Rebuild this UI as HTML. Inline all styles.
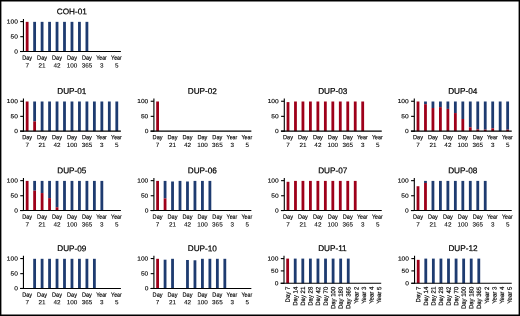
<!DOCTYPE html>
<html><head><meta charset="utf-8"><style>
html,body{margin:0;padding:0;background:#fff;}
body{width:520px;height:316px;overflow:hidden;}
svg{display:block;will-change:transform;}
text{font-family:"Liberation Sans",sans-serif;fill:#000;text-rendering:geometricPrecision;stroke:#000;stroke-width:0.22px;}
.tt{stroke-width:0.22px}.tk{stroke-width:0.12px}.x1{stroke-width:0.15px}.x2{stroke-width:0.08px}.xr{stroke-width:0.18px}
</style></head><body>
<svg width="520" height="316" viewBox="0 0 520 316">
<rect x="0" y="0" width="520" height="316" fill="#fff"/>
<text transform="translate(71.85 14.2) rotate(0.2)" font-size="8.2" text-anchor="middle" class="tt">COH-01</text>
<rect x="25.75" y="21.85" width="2.8" height="29.65" fill="#9e001a"/>
<rect x="33.22" y="21.85" width="2.8" height="29.65" fill="#1e3b70"/>
<rect x="40.69" y="21.85" width="2.8" height="29.65" fill="#1e3b70"/>
<rect x="48.16" y="21.85" width="2.8" height="29.65" fill="#1e3b70"/>
<rect x="55.63" y="21.85" width="2.8" height="29.65" fill="#1e3b70"/>
<rect x="63.1" y="21.85" width="2.8" height="29.65" fill="#1e3b70"/>
<rect x="70.57" y="21.85" width="2.8" height="29.65" fill="#1e3b70"/>
<rect x="78.04" y="21.85" width="2.8" height="29.65" fill="#1e3b70"/>
<rect x="85.51" y="21.85" width="2.8" height="29.65" fill="#1e3b70"/>
<line x1="23.45" y1="18.9" x2="23.45" y2="52" stroke="#000" stroke-width="1.1"/>
<line x1="20.05" y1="51.5" x2="120.9" y2="51.5" stroke="#000" stroke-width="1.1"/>
<line x1="20.25" y1="21.6" x2="23.45" y2="21.6" stroke="#000" stroke-width="1.1"/>
<text transform="translate(17.85 23.49) rotate(0.2) scale(1.12 1)" font-size="5.9" text-anchor="end" class="tk">100</text>
<line x1="20.25" y1="36.7" x2="23.45" y2="36.7" stroke="#000" stroke-width="1.1"/>
<text transform="translate(17.85 38.59) rotate(0.2) scale(1.12 1)" font-size="5.9" text-anchor="end" class="tk">50</text>
<line x1="20.25" y1="51.5" x2="23.45" y2="51.5" stroke="#000" stroke-width="1.1"/>
<text transform="translate(17.85 53.39) rotate(0.2) scale(1.12 1)" font-size="5.9" text-anchor="end" class="tk">0</text>
<text transform="translate(27.15 59.7) rotate(0.2) scale(0.92 1)" font-size="6.1" text-anchor="middle" class="x1">Day</text>
<text transform="translate(27.15 67.4) rotate(0.2) scale(1.04 1)" font-size="6.1" text-anchor="middle" class="x2">7</text>
<text transform="translate(42.09 59.7) rotate(0.2) scale(0.92 1)" font-size="6.1" text-anchor="middle" class="x1">Day</text>
<text transform="translate(42.09 67.4) rotate(0.2) scale(1.04 1)" font-size="6.1" text-anchor="middle" class="x2">21</text>
<text transform="translate(57.03 59.7) rotate(0.2) scale(0.92 1)" font-size="6.1" text-anchor="middle" class="x1">Day</text>
<text transform="translate(57.03 67.4) rotate(0.2) scale(1.04 1)" font-size="6.1" text-anchor="middle" class="x2">42</text>
<text transform="translate(71.97 59.7) rotate(0.2) scale(0.92 1)" font-size="6.1" text-anchor="middle" class="x1">Day</text>
<text transform="translate(71.97 67.4) rotate(0.2) scale(1.04 1)" font-size="6.1" text-anchor="middle" class="x2">100</text>
<text transform="translate(86.91 59.7) rotate(0.2) scale(0.92 1)" font-size="6.1" text-anchor="middle" class="x1">Day</text>
<text transform="translate(86.91 67.4) rotate(0.2) scale(1.04 1)" font-size="6.1" text-anchor="middle" class="x2">365</text>
<text transform="translate(101.5 59.7) rotate(0.2) scale(0.87 1)" font-size="6.1" text-anchor="middle" class="x1">Year</text>
<text transform="translate(101.85 67.4) rotate(0.2) scale(1.04 1)" font-size="6.1" text-anchor="middle" class="x2">3</text>
<text transform="translate(116.44 59.7) rotate(0.2) scale(0.87 1)" font-size="6.1" text-anchor="middle" class="x1">Year</text>
<text transform="translate(116.79 67.4) rotate(0.2) scale(1.04 1)" font-size="6.1" text-anchor="middle" class="x2">5</text>
<text transform="translate(71.85 93.85) rotate(0.2)" font-size="8.2" text-anchor="middle" class="tt">DUP-01</text>
<rect x="25.75" y="101.5" width="2.8" height="29.65" fill="#9e001a"/>
<rect x="33.22" y="101.5" width="2.8" height="19.87" fill="#1e3b70"/>
<rect x="33.22" y="121.37" width="2.8" height="9.78" fill="#9e001a"/>
<rect x="40.69" y="101.5" width="2.8" height="29.65" fill="#1e3b70"/>
<rect x="48.16" y="101.5" width="2.8" height="29.65" fill="#1e3b70"/>
<rect x="55.63" y="101.5" width="2.8" height="29.65" fill="#1e3b70"/>
<rect x="63.1" y="101.5" width="2.8" height="29.65" fill="#1e3b70"/>
<rect x="70.57" y="101.5" width="2.8" height="29.65" fill="#1e3b70"/>
<rect x="78.04" y="101.5" width="2.8" height="29.65" fill="#1e3b70"/>
<rect x="85.51" y="101.5" width="2.8" height="29.65" fill="#1e3b70"/>
<rect x="92.98" y="101.5" width="2.8" height="29.65" fill="#1e3b70"/>
<rect x="100.45" y="101.5" width="2.8" height="29.65" fill="#1e3b70"/>
<rect x="107.92" y="101.5" width="2.8" height="29.65" fill="#1e3b70"/>
<rect x="115.39" y="101.5" width="2.8" height="29.65" fill="#1e3b70"/>
<line x1="23.45" y1="98.55" x2="23.45" y2="131.65" stroke="#000" stroke-width="1.1"/>
<line x1="20.05" y1="131.15" x2="120.9" y2="131.15" stroke="#000" stroke-width="1.1"/>
<line x1="20.25" y1="101.25" x2="23.45" y2="101.25" stroke="#000" stroke-width="1.1"/>
<text transform="translate(17.85 103.14) rotate(0.2) scale(1.12 1)" font-size="5.9" text-anchor="end" class="tk">100</text>
<line x1="20.25" y1="116.35" x2="23.45" y2="116.35" stroke="#000" stroke-width="1.1"/>
<text transform="translate(17.85 118.24) rotate(0.2) scale(1.12 1)" font-size="5.9" text-anchor="end" class="tk">50</text>
<line x1="20.25" y1="131.15" x2="23.45" y2="131.15" stroke="#000" stroke-width="1.1"/>
<text transform="translate(17.85 133.04) rotate(0.2) scale(1.12 1)" font-size="5.9" text-anchor="end" class="tk">0</text>
<text transform="translate(27.15 139.35) rotate(0.2) scale(0.92 1)" font-size="6.1" text-anchor="middle" class="x1">Day</text>
<text transform="translate(27.15 147.05) rotate(0.2) scale(1.04 1)" font-size="6.1" text-anchor="middle" class="x2">7</text>
<text transform="translate(42.09 139.35) rotate(0.2) scale(0.92 1)" font-size="6.1" text-anchor="middle" class="x1">Day</text>
<text transform="translate(42.09 147.05) rotate(0.2) scale(1.04 1)" font-size="6.1" text-anchor="middle" class="x2">21</text>
<text transform="translate(57.03 139.35) rotate(0.2) scale(0.92 1)" font-size="6.1" text-anchor="middle" class="x1">Day</text>
<text transform="translate(57.03 147.05) rotate(0.2) scale(1.04 1)" font-size="6.1" text-anchor="middle" class="x2">42</text>
<text transform="translate(71.97 139.35) rotate(0.2) scale(0.92 1)" font-size="6.1" text-anchor="middle" class="x1">Day</text>
<text transform="translate(71.97 147.05) rotate(0.2) scale(1.04 1)" font-size="6.1" text-anchor="middle" class="x2">100</text>
<text transform="translate(86.91 139.35) rotate(0.2) scale(0.92 1)" font-size="6.1" text-anchor="middle" class="x1">Day</text>
<text transform="translate(86.91 147.05) rotate(0.2) scale(1.04 1)" font-size="6.1" text-anchor="middle" class="x2">365</text>
<text transform="translate(101.5 139.35) rotate(0.2) scale(0.87 1)" font-size="6.1" text-anchor="middle" class="x1">Year</text>
<text transform="translate(101.85 147.05) rotate(0.2) scale(1.04 1)" font-size="6.1" text-anchor="middle" class="x2">3</text>
<text transform="translate(116.44 139.35) rotate(0.2) scale(0.87 1)" font-size="6.1" text-anchor="middle" class="x1">Year</text>
<text transform="translate(116.79 147.05) rotate(0.2) scale(1.04 1)" font-size="6.1" text-anchor="middle" class="x2">5</text>
<text transform="translate(202.3 93.85) rotate(0.2)" font-size="8.2" text-anchor="middle" class="tt">DUP-02</text>
<rect x="156.2" y="101.5" width="2.8" height="29.65" fill="#9e001a"/>
<line x1="153.9" y1="98.55" x2="153.9" y2="131.65" stroke="#000" stroke-width="1.1"/>
<line x1="150.5" y1="131.15" x2="251.35" y2="131.15" stroke="#000" stroke-width="1.1"/>
<line x1="150.7" y1="101.25" x2="153.9" y2="101.25" stroke="#000" stroke-width="1.1"/>
<text transform="translate(148.3 103.14) rotate(0.2) scale(1.12 1)" font-size="5.9" text-anchor="end" class="tk">100</text>
<line x1="150.7" y1="116.35" x2="153.9" y2="116.35" stroke="#000" stroke-width="1.1"/>
<text transform="translate(148.3 118.24) rotate(0.2) scale(1.12 1)" font-size="5.9" text-anchor="end" class="tk">50</text>
<line x1="150.7" y1="131.15" x2="153.9" y2="131.15" stroke="#000" stroke-width="1.1"/>
<text transform="translate(148.3 133.04) rotate(0.2) scale(1.12 1)" font-size="5.9" text-anchor="end" class="tk">0</text>
<text transform="translate(157.6 139.35) rotate(0.2) scale(0.92 1)" font-size="6.1" text-anchor="middle" class="x1">Day</text>
<text transform="translate(157.6 147.05) rotate(0.2) scale(1.04 1)" font-size="6.1" text-anchor="middle" class="x2">7</text>
<text transform="translate(172.54 139.35) rotate(0.2) scale(0.92 1)" font-size="6.1" text-anchor="middle" class="x1">Day</text>
<text transform="translate(172.54 147.05) rotate(0.2) scale(1.04 1)" font-size="6.1" text-anchor="middle" class="x2">21</text>
<text transform="translate(187.48 139.35) rotate(0.2) scale(0.92 1)" font-size="6.1" text-anchor="middle" class="x1">Day</text>
<text transform="translate(187.48 147.05) rotate(0.2) scale(1.04 1)" font-size="6.1" text-anchor="middle" class="x2">42</text>
<text transform="translate(202.42 139.35) rotate(0.2) scale(0.92 1)" font-size="6.1" text-anchor="middle" class="x1">Day</text>
<text transform="translate(202.42 147.05) rotate(0.2) scale(1.04 1)" font-size="6.1" text-anchor="middle" class="x2">100</text>
<text transform="translate(217.36 139.35) rotate(0.2) scale(0.92 1)" font-size="6.1" text-anchor="middle" class="x1">Day</text>
<text transform="translate(217.36 147.05) rotate(0.2) scale(1.04 1)" font-size="6.1" text-anchor="middle" class="x2">365</text>
<text transform="translate(231.95 139.35) rotate(0.2) scale(0.87 1)" font-size="6.1" text-anchor="middle" class="x1">Year</text>
<text transform="translate(232.3 147.05) rotate(0.2) scale(1.04 1)" font-size="6.1" text-anchor="middle" class="x2">3</text>
<text transform="translate(246.89 139.35) rotate(0.2) scale(0.87 1)" font-size="6.1" text-anchor="middle" class="x1">Year</text>
<text transform="translate(247.24 147.05) rotate(0.2) scale(1.04 1)" font-size="6.1" text-anchor="middle" class="x2">5</text>
<text transform="translate(332.7 93.85) rotate(0.2)" font-size="8.2" text-anchor="middle" class="tt">DUP-03</text>
<rect x="286.6" y="102.09" width="2.8" height="29.06" fill="#9e001a"/>
<rect x="294.07" y="101.5" width="2.8" height="29.65" fill="#9e001a"/>
<rect x="301.54" y="101.5" width="2.8" height="29.65" fill="#9e001a"/>
<rect x="309.01" y="101.5" width="2.8" height="29.65" fill="#9e001a"/>
<rect x="316.48" y="101.5" width="2.8" height="29.65" fill="#9e001a"/>
<rect x="323.95" y="101.5" width="2.8" height="29.65" fill="#9e001a"/>
<rect x="331.42" y="101.5" width="2.8" height="29.65" fill="#9e001a"/>
<rect x="338.89" y="101.5" width="2.8" height="29.65" fill="#9e001a"/>
<rect x="346.36" y="101.5" width="2.8" height="29.65" fill="#9e001a"/>
<rect x="353.83" y="101.5" width="2.8" height="29.65" fill="#9e001a"/>
<rect x="361.3" y="101.5" width="2.8" height="29.65" fill="#9e001a"/>
<line x1="284.3" y1="98.55" x2="284.3" y2="131.65" stroke="#000" stroke-width="1.1"/>
<line x1="280.9" y1="131.15" x2="381.75" y2="131.15" stroke="#000" stroke-width="1.1"/>
<line x1="281.1" y1="101.25" x2="284.3" y2="101.25" stroke="#000" stroke-width="1.1"/>
<text transform="translate(278.7 103.14) rotate(0.2) scale(1.12 1)" font-size="5.9" text-anchor="end" class="tk">100</text>
<line x1="281.1" y1="116.35" x2="284.3" y2="116.35" stroke="#000" stroke-width="1.1"/>
<text transform="translate(278.7 118.24) rotate(0.2) scale(1.12 1)" font-size="5.9" text-anchor="end" class="tk">50</text>
<line x1="281.1" y1="131.15" x2="284.3" y2="131.15" stroke="#000" stroke-width="1.1"/>
<text transform="translate(278.7 133.04) rotate(0.2) scale(1.12 1)" font-size="5.9" text-anchor="end" class="tk">0</text>
<text transform="translate(288 139.35) rotate(0.2) scale(0.92 1)" font-size="6.1" text-anchor="middle" class="x1">Day</text>
<text transform="translate(288 147.05) rotate(0.2) scale(1.04 1)" font-size="6.1" text-anchor="middle" class="x2">7</text>
<text transform="translate(302.94 139.35) rotate(0.2) scale(0.92 1)" font-size="6.1" text-anchor="middle" class="x1">Day</text>
<text transform="translate(302.94 147.05) rotate(0.2) scale(1.04 1)" font-size="6.1" text-anchor="middle" class="x2">21</text>
<text transform="translate(317.88 139.35) rotate(0.2) scale(0.92 1)" font-size="6.1" text-anchor="middle" class="x1">Day</text>
<text transform="translate(317.88 147.05) rotate(0.2) scale(1.04 1)" font-size="6.1" text-anchor="middle" class="x2">42</text>
<text transform="translate(332.82 139.35) rotate(0.2) scale(0.92 1)" font-size="6.1" text-anchor="middle" class="x1">Day</text>
<text transform="translate(332.82 147.05) rotate(0.2) scale(1.04 1)" font-size="6.1" text-anchor="middle" class="x2">100</text>
<text transform="translate(347.76 139.35) rotate(0.2) scale(0.92 1)" font-size="6.1" text-anchor="middle" class="x1">Day</text>
<text transform="translate(347.76 147.05) rotate(0.2) scale(1.04 1)" font-size="6.1" text-anchor="middle" class="x2">365</text>
<text transform="translate(362.35 139.35) rotate(0.2) scale(0.87 1)" font-size="6.1" text-anchor="middle" class="x1">Year</text>
<text transform="translate(362.7 147.05) rotate(0.2) scale(1.04 1)" font-size="6.1" text-anchor="middle" class="x2">3</text>
<text transform="translate(377.29 139.35) rotate(0.2) scale(0.87 1)" font-size="6.1" text-anchor="middle" class="x1">Year</text>
<text transform="translate(377.64 147.05) rotate(0.2) scale(1.04 1)" font-size="6.1" text-anchor="middle" class="x2">5</text>
<text transform="translate(462.7 93.85) rotate(0.2)" font-size="8.2" text-anchor="middle" class="tt">DUP-04</text>
<rect x="416.6" y="101.5" width="2.8" height="29.65" fill="#9e001a"/>
<rect x="424.07" y="101.5" width="2.8" height="2.67" fill="#1e3b70"/>
<rect x="424.07" y="104.17" width="2.8" height="26.98" fill="#9e001a"/>
<rect x="431.54" y="101.5" width="2.8" height="6.52" fill="#1e3b70"/>
<rect x="431.54" y="108.02" width="2.8" height="23.13" fill="#9e001a"/>
<rect x="439.01" y="101.5" width="2.8" height="5.63" fill="#1e3b70"/>
<rect x="439.01" y="107.13" width="2.8" height="24.02" fill="#9e001a"/>
<rect x="446.48" y="101.5" width="2.8" height="7.41" fill="#1e3b70"/>
<rect x="446.48" y="108.91" width="2.8" height="22.24" fill="#9e001a"/>
<rect x="453.95" y="101.5" width="2.8" height="11.56" fill="#1e3b70"/>
<rect x="453.95" y="113.06" width="2.8" height="18.09" fill="#9e001a"/>
<rect x="461.42" y="101.5" width="2.8" height="17.49" fill="#1e3b70"/>
<rect x="461.42" y="118.99" width="2.8" height="12.16" fill="#9e001a"/>
<rect x="468.89" y="101.5" width="2.8" height="25.8" fill="#1e3b70"/>
<rect x="468.89" y="127.3" width="2.8" height="3.85" fill="#9e001a"/>
<rect x="476.36" y="101.5" width="2.8" height="27.87" fill="#1e3b70"/>
<rect x="476.36" y="129.37" width="2.8" height="1.78" fill="#9e001a"/>
<rect x="483.83" y="101.5" width="2.8" height="28.17" fill="#1e3b70"/>
<rect x="483.83" y="129.67" width="2.8" height="1.48" fill="#9e001a"/>
<rect x="491.3" y="101.5" width="2.8" height="26.83" fill="#1e3b70"/>
<rect x="491.3" y="128.33" width="2.8" height="2.82" fill="#9e001a"/>
<rect x="498.77" y="101.5" width="2.8" height="29.5" fill="#1e3b70"/>
<rect x="498.77" y="131" width="2.8" height="0.15" fill="#9e001a"/>
<rect x="506.24" y="101.5" width="2.8" height="28.17" fill="#1e3b70"/>
<rect x="506.24" y="129.67" width="2.8" height="1.48" fill="#9e001a"/>
<line x1="414.3" y1="98.55" x2="414.3" y2="131.65" stroke="#000" stroke-width="1.1"/>
<line x1="410.9" y1="131.15" x2="511.75" y2="131.15" stroke="#000" stroke-width="1.1"/>
<line x1="411.1" y1="101.25" x2="414.3" y2="101.25" stroke="#000" stroke-width="1.1"/>
<text transform="translate(408.7 103.14) rotate(0.2) scale(1.12 1)" font-size="5.9" text-anchor="end" class="tk">100</text>
<line x1="411.1" y1="116.35" x2="414.3" y2="116.35" stroke="#000" stroke-width="1.1"/>
<text transform="translate(408.7 118.24) rotate(0.2) scale(1.12 1)" font-size="5.9" text-anchor="end" class="tk">50</text>
<line x1="411.1" y1="131.15" x2="414.3" y2="131.15" stroke="#000" stroke-width="1.1"/>
<text transform="translate(408.7 133.04) rotate(0.2) scale(1.12 1)" font-size="5.9" text-anchor="end" class="tk">0</text>
<text transform="translate(418 139.35) rotate(0.2) scale(0.92 1)" font-size="6.1" text-anchor="middle" class="x1">Day</text>
<text transform="translate(418 147.05) rotate(0.2) scale(1.04 1)" font-size="6.1" text-anchor="middle" class="x2">7</text>
<text transform="translate(432.94 139.35) rotate(0.2) scale(0.92 1)" font-size="6.1" text-anchor="middle" class="x1">Day</text>
<text transform="translate(432.94 147.05) rotate(0.2) scale(1.04 1)" font-size="6.1" text-anchor="middle" class="x2">21</text>
<text transform="translate(447.88 139.35) rotate(0.2) scale(0.92 1)" font-size="6.1" text-anchor="middle" class="x1">Day</text>
<text transform="translate(447.88 147.05) rotate(0.2) scale(1.04 1)" font-size="6.1" text-anchor="middle" class="x2">42</text>
<text transform="translate(462.82 139.35) rotate(0.2) scale(0.92 1)" font-size="6.1" text-anchor="middle" class="x1">Day</text>
<text transform="translate(462.82 147.05) rotate(0.2) scale(1.04 1)" font-size="6.1" text-anchor="middle" class="x2">100</text>
<text transform="translate(477.76 139.35) rotate(0.2) scale(0.92 1)" font-size="6.1" text-anchor="middle" class="x1">Day</text>
<text transform="translate(477.76 147.05) rotate(0.2) scale(1.04 1)" font-size="6.1" text-anchor="middle" class="x2">365</text>
<text transform="translate(492.35 139.35) rotate(0.2) scale(0.87 1)" font-size="6.1" text-anchor="middle" class="x1">Year</text>
<text transform="translate(492.7 147.05) rotate(0.2) scale(1.04 1)" font-size="6.1" text-anchor="middle" class="x2">3</text>
<text transform="translate(507.29 139.35) rotate(0.2) scale(0.87 1)" font-size="6.1" text-anchor="middle" class="x1">Year</text>
<text transform="translate(507.64 147.05) rotate(0.2) scale(1.04 1)" font-size="6.1" text-anchor="middle" class="x2">5</text>
<text transform="translate(71.85 173.25) rotate(0.2)" font-size="8.2" text-anchor="middle" class="tt">DUP-05</text>
<rect x="25.75" y="180.9" width="2.8" height="29.65" fill="#9e001a"/>
<rect x="33.22" y="180.9" width="2.8" height="9.78" fill="#1e3b70"/>
<rect x="33.22" y="190.68" width="2.8" height="19.87" fill="#9e001a"/>
<rect x="40.69" y="180.9" width="2.8" height="12.16" fill="#1e3b70"/>
<rect x="40.69" y="193.06" width="2.8" height="17.49" fill="#9e001a"/>
<rect x="48.16" y="180.9" width="2.8" height="17.2" fill="#1e3b70"/>
<rect x="48.16" y="198.1" width="2.8" height="12.45" fill="#9e001a"/>
<rect x="55.63" y="180.9" width="2.8" height="26.39" fill="#1e3b70"/>
<rect x="55.63" y="207.29" width="2.8" height="3.26" fill="#9e001a"/>
<rect x="63.1" y="180.9" width="2.8" height="29.65" fill="#1e3b70"/>
<rect x="70.57" y="180.9" width="2.8" height="29.65" fill="#1e3b70"/>
<rect x="78.04" y="180.9" width="2.8" height="29.65" fill="#1e3b70"/>
<rect x="85.51" y="180.9" width="2.8" height="29.65" fill="#1e3b70"/>
<rect x="92.98" y="180.9" width="2.8" height="29.65" fill="#1e3b70"/>
<rect x="100.45" y="180.9" width="2.8" height="29.65" fill="#1e3b70"/>
<line x1="23.45" y1="177.95" x2="23.45" y2="211.05" stroke="#000" stroke-width="1.1"/>
<line x1="20.05" y1="210.55" x2="120.9" y2="210.55" stroke="#000" stroke-width="1.1"/>
<line x1="20.25" y1="180.65" x2="23.45" y2="180.65" stroke="#000" stroke-width="1.1"/>
<text transform="translate(17.85 182.54) rotate(0.2) scale(1.12 1)" font-size="5.9" text-anchor="end" class="tk">100</text>
<line x1="20.25" y1="195.75" x2="23.45" y2="195.75" stroke="#000" stroke-width="1.1"/>
<text transform="translate(17.85 197.64) rotate(0.2) scale(1.12 1)" font-size="5.9" text-anchor="end" class="tk">50</text>
<line x1="20.25" y1="210.55" x2="23.45" y2="210.55" stroke="#000" stroke-width="1.1"/>
<text transform="translate(17.85 212.44) rotate(0.2) scale(1.12 1)" font-size="5.9" text-anchor="end" class="tk">0</text>
<text transform="translate(27.15 218.75) rotate(0.2) scale(0.92 1)" font-size="6.1" text-anchor="middle" class="x1">Day</text>
<text transform="translate(27.15 226.45) rotate(0.2) scale(1.04 1)" font-size="6.1" text-anchor="middle" class="x2">7</text>
<text transform="translate(42.09 218.75) rotate(0.2) scale(0.92 1)" font-size="6.1" text-anchor="middle" class="x1">Day</text>
<text transform="translate(42.09 226.45) rotate(0.2) scale(1.04 1)" font-size="6.1" text-anchor="middle" class="x2">21</text>
<text transform="translate(57.03 218.75) rotate(0.2) scale(0.92 1)" font-size="6.1" text-anchor="middle" class="x1">Day</text>
<text transform="translate(57.03 226.45) rotate(0.2) scale(1.04 1)" font-size="6.1" text-anchor="middle" class="x2">42</text>
<text transform="translate(71.97 218.75) rotate(0.2) scale(0.92 1)" font-size="6.1" text-anchor="middle" class="x1">Day</text>
<text transform="translate(71.97 226.45) rotate(0.2) scale(1.04 1)" font-size="6.1" text-anchor="middle" class="x2">100</text>
<text transform="translate(86.91 218.75) rotate(0.2) scale(0.92 1)" font-size="6.1" text-anchor="middle" class="x1">Day</text>
<text transform="translate(86.91 226.45) rotate(0.2) scale(1.04 1)" font-size="6.1" text-anchor="middle" class="x2">365</text>
<text transform="translate(101.5 218.75) rotate(0.2) scale(0.87 1)" font-size="6.1" text-anchor="middle" class="x1">Year</text>
<text transform="translate(101.85 226.45) rotate(0.2) scale(1.04 1)" font-size="6.1" text-anchor="middle" class="x2">3</text>
<text transform="translate(116.44 218.75) rotate(0.2) scale(0.87 1)" font-size="6.1" text-anchor="middle" class="x1">Year</text>
<text transform="translate(116.79 226.45) rotate(0.2) scale(1.04 1)" font-size="6.1" text-anchor="middle" class="x2">5</text>
<text transform="translate(202.3 173.25) rotate(0.2)" font-size="8.2" text-anchor="middle" class="tt">DUP-06</text>
<rect x="156.2" y="180.9" width="2.8" height="29.65" fill="#9e001a"/>
<rect x="163.67" y="180.9" width="2.8" height="17.49" fill="#1e3b70"/>
<rect x="163.67" y="198.39" width="2.8" height="12.16" fill="#9e001a"/>
<rect x="171.14" y="181.49" width="2.8" height="29.06" fill="#1e3b70"/>
<rect x="178.61" y="180.9" width="2.8" height="29.65" fill="#1e3b70"/>
<rect x="186.08" y="181.49" width="2.8" height="29.06" fill="#1e3b70"/>
<rect x="193.55" y="180.9" width="2.8" height="29.65" fill="#1e3b70"/>
<rect x="201.02" y="180.9" width="2.8" height="29.65" fill="#1e3b70"/>
<rect x="208.49" y="180.9" width="2.8" height="29.65" fill="#1e3b70"/>
<line x1="153.9" y1="177.95" x2="153.9" y2="211.05" stroke="#000" stroke-width="1.1"/>
<line x1="150.5" y1="210.55" x2="251.35" y2="210.55" stroke="#000" stroke-width="1.1"/>
<line x1="150.7" y1="180.65" x2="153.9" y2="180.65" stroke="#000" stroke-width="1.1"/>
<text transform="translate(148.3 182.54) rotate(0.2) scale(1.12 1)" font-size="5.9" text-anchor="end" class="tk">100</text>
<line x1="150.7" y1="195.75" x2="153.9" y2="195.75" stroke="#000" stroke-width="1.1"/>
<text transform="translate(148.3 197.64) rotate(0.2) scale(1.12 1)" font-size="5.9" text-anchor="end" class="tk">50</text>
<line x1="150.7" y1="210.55" x2="153.9" y2="210.55" stroke="#000" stroke-width="1.1"/>
<text transform="translate(148.3 212.44) rotate(0.2) scale(1.12 1)" font-size="5.9" text-anchor="end" class="tk">0</text>
<text transform="translate(157.6 218.75) rotate(0.2) scale(0.92 1)" font-size="6.1" text-anchor="middle" class="x1">Day</text>
<text transform="translate(157.6 226.45) rotate(0.2) scale(1.04 1)" font-size="6.1" text-anchor="middle" class="x2">7</text>
<text transform="translate(172.54 218.75) rotate(0.2) scale(0.92 1)" font-size="6.1" text-anchor="middle" class="x1">Day</text>
<text transform="translate(172.54 226.45) rotate(0.2) scale(1.04 1)" font-size="6.1" text-anchor="middle" class="x2">21</text>
<text transform="translate(187.48 218.75) rotate(0.2) scale(0.92 1)" font-size="6.1" text-anchor="middle" class="x1">Day</text>
<text transform="translate(187.48 226.45) rotate(0.2) scale(1.04 1)" font-size="6.1" text-anchor="middle" class="x2">42</text>
<text transform="translate(202.42 218.75) rotate(0.2) scale(0.92 1)" font-size="6.1" text-anchor="middle" class="x1">Day</text>
<text transform="translate(202.42 226.45) rotate(0.2) scale(1.04 1)" font-size="6.1" text-anchor="middle" class="x2">100</text>
<text transform="translate(217.36 218.75) rotate(0.2) scale(0.92 1)" font-size="6.1" text-anchor="middle" class="x1">Day</text>
<text transform="translate(217.36 226.45) rotate(0.2) scale(1.04 1)" font-size="6.1" text-anchor="middle" class="x2">365</text>
<text transform="translate(231.95 218.75) rotate(0.2) scale(0.87 1)" font-size="6.1" text-anchor="middle" class="x1">Year</text>
<text transform="translate(232.3 226.45) rotate(0.2) scale(1.04 1)" font-size="6.1" text-anchor="middle" class="x2">3</text>
<text transform="translate(246.89 218.75) rotate(0.2) scale(0.87 1)" font-size="6.1" text-anchor="middle" class="x1">Year</text>
<text transform="translate(247.24 226.45) rotate(0.2) scale(1.04 1)" font-size="6.1" text-anchor="middle" class="x2">5</text>
<text transform="translate(332.7 173.25) rotate(0.2)" font-size="8.2" text-anchor="middle" class="tt">DUP-07</text>
<rect x="286.6" y="181.79" width="2.8" height="28.76" fill="#9e001a"/>
<rect x="294.07" y="180.9" width="2.8" height="29.65" fill="#9e001a"/>
<rect x="301.54" y="180.9" width="2.8" height="29.65" fill="#9e001a"/>
<rect x="309.01" y="180.9" width="2.8" height="29.65" fill="#9e001a"/>
<rect x="316.48" y="180.9" width="2.8" height="29.65" fill="#9e001a"/>
<rect x="323.95" y="180.9" width="2.8" height="29.65" fill="#9e001a"/>
<rect x="331.42" y="180.9" width="2.8" height="29.65" fill="#9e001a"/>
<rect x="338.89" y="180.9" width="2.8" height="29.65" fill="#9e001a"/>
<rect x="346.36" y="180.9" width="2.8" height="29.65" fill="#9e001a"/>
<rect x="353.83" y="180.9" width="2.8" height="29.65" fill="#9e001a"/>
<line x1="284.3" y1="177.95" x2="284.3" y2="211.05" stroke="#000" stroke-width="1.1"/>
<line x1="280.9" y1="210.55" x2="381.75" y2="210.55" stroke="#000" stroke-width="1.1"/>
<line x1="281.1" y1="180.65" x2="284.3" y2="180.65" stroke="#000" stroke-width="1.1"/>
<text transform="translate(278.7 182.54) rotate(0.2) scale(1.12 1)" font-size="5.9" text-anchor="end" class="tk">100</text>
<line x1="281.1" y1="195.75" x2="284.3" y2="195.75" stroke="#000" stroke-width="1.1"/>
<text transform="translate(278.7 197.64) rotate(0.2) scale(1.12 1)" font-size="5.9" text-anchor="end" class="tk">50</text>
<line x1="281.1" y1="210.55" x2="284.3" y2="210.55" stroke="#000" stroke-width="1.1"/>
<text transform="translate(278.7 212.44) rotate(0.2) scale(1.12 1)" font-size="5.9" text-anchor="end" class="tk">0</text>
<text transform="translate(288 218.75) rotate(0.2) scale(0.92 1)" font-size="6.1" text-anchor="middle" class="x1">Day</text>
<text transform="translate(288 226.45) rotate(0.2) scale(1.04 1)" font-size="6.1" text-anchor="middle" class="x2">7</text>
<text transform="translate(302.94 218.75) rotate(0.2) scale(0.92 1)" font-size="6.1" text-anchor="middle" class="x1">Day</text>
<text transform="translate(302.94 226.45) rotate(0.2) scale(1.04 1)" font-size="6.1" text-anchor="middle" class="x2">21</text>
<text transform="translate(317.88 218.75) rotate(0.2) scale(0.92 1)" font-size="6.1" text-anchor="middle" class="x1">Day</text>
<text transform="translate(317.88 226.45) rotate(0.2) scale(1.04 1)" font-size="6.1" text-anchor="middle" class="x2">42</text>
<text transform="translate(332.82 218.75) rotate(0.2) scale(0.92 1)" font-size="6.1" text-anchor="middle" class="x1">Day</text>
<text transform="translate(332.82 226.45) rotate(0.2) scale(1.04 1)" font-size="6.1" text-anchor="middle" class="x2">100</text>
<text transform="translate(347.76 218.75) rotate(0.2) scale(0.92 1)" font-size="6.1" text-anchor="middle" class="x1">Day</text>
<text transform="translate(347.76 226.45) rotate(0.2) scale(1.04 1)" font-size="6.1" text-anchor="middle" class="x2">365</text>
<text transform="translate(362.35 218.75) rotate(0.2) scale(0.87 1)" font-size="6.1" text-anchor="middle" class="x1">Year</text>
<text transform="translate(362.7 226.45) rotate(0.2) scale(1.04 1)" font-size="6.1" text-anchor="middle" class="x2">3</text>
<text transform="translate(377.29 218.75) rotate(0.2) scale(0.87 1)" font-size="6.1" text-anchor="middle" class="x1">Year</text>
<text transform="translate(377.64 226.45) rotate(0.2) scale(1.04 1)" font-size="6.1" text-anchor="middle" class="x2">5</text>
<text transform="translate(462.7 173.25) rotate(0.2)" font-size="8.2" text-anchor="middle" class="tt">DUP-08</text>
<rect x="416.6" y="186.24" width="2.8" height="24.31" fill="#9e001a"/>
<rect x="424.07" y="180.9" width="2.8" height="2.08" fill="#1e3b70"/>
<rect x="424.07" y="182.98" width="2.8" height="27.57" fill="#9e001a"/>
<rect x="431.54" y="180.9" width="2.8" height="29.21" fill="#1e3b70"/>
<rect x="431.54" y="210.11" width="2.8" height="0.44" fill="#9e001a"/>
<rect x="439.01" y="180.9" width="2.8" height="29.65" fill="#1e3b70"/>
<rect x="446.48" y="180.9" width="2.8" height="29.65" fill="#1e3b70"/>
<rect x="453.95" y="180.9" width="2.8" height="29.65" fill="#1e3b70"/>
<rect x="461.42" y="180.9" width="2.8" height="29.65" fill="#1e3b70"/>
<rect x="468.89" y="180.9" width="2.8" height="29.65" fill="#1e3b70"/>
<rect x="476.36" y="180.9" width="2.8" height="29.65" fill="#1e3b70"/>
<rect x="483.83" y="180.9" width="2.8" height="29.65" fill="#1e3b70"/>
<line x1="414.3" y1="177.95" x2="414.3" y2="211.05" stroke="#000" stroke-width="1.1"/>
<line x1="410.9" y1="210.55" x2="511.75" y2="210.55" stroke="#000" stroke-width="1.1"/>
<line x1="411.1" y1="180.65" x2="414.3" y2="180.65" stroke="#000" stroke-width="1.1"/>
<text transform="translate(408.7 182.54) rotate(0.2) scale(1.12 1)" font-size="5.9" text-anchor="end" class="tk">100</text>
<line x1="411.1" y1="195.75" x2="414.3" y2="195.75" stroke="#000" stroke-width="1.1"/>
<text transform="translate(408.7 197.64) rotate(0.2) scale(1.12 1)" font-size="5.9" text-anchor="end" class="tk">50</text>
<line x1="411.1" y1="210.55" x2="414.3" y2="210.55" stroke="#000" stroke-width="1.1"/>
<text transform="translate(408.7 212.44) rotate(0.2) scale(1.12 1)" font-size="5.9" text-anchor="end" class="tk">0</text>
<text transform="translate(418 218.75) rotate(0.2) scale(0.92 1)" font-size="6.1" text-anchor="middle" class="x1">Day</text>
<text transform="translate(418 226.45) rotate(0.2) scale(1.04 1)" font-size="6.1" text-anchor="middle" class="x2">7</text>
<text transform="translate(432.94 218.75) rotate(0.2) scale(0.92 1)" font-size="6.1" text-anchor="middle" class="x1">Day</text>
<text transform="translate(432.94 226.45) rotate(0.2) scale(1.04 1)" font-size="6.1" text-anchor="middle" class="x2">21</text>
<text transform="translate(447.88 218.75) rotate(0.2) scale(0.92 1)" font-size="6.1" text-anchor="middle" class="x1">Day</text>
<text transform="translate(447.88 226.45) rotate(0.2) scale(1.04 1)" font-size="6.1" text-anchor="middle" class="x2">42</text>
<text transform="translate(462.82 218.75) rotate(0.2) scale(0.92 1)" font-size="6.1" text-anchor="middle" class="x1">Day</text>
<text transform="translate(462.82 226.45) rotate(0.2) scale(1.04 1)" font-size="6.1" text-anchor="middle" class="x2">100</text>
<text transform="translate(477.76 218.75) rotate(0.2) scale(0.92 1)" font-size="6.1" text-anchor="middle" class="x1">Day</text>
<text transform="translate(477.76 226.45) rotate(0.2) scale(1.04 1)" font-size="6.1" text-anchor="middle" class="x2">365</text>
<text transform="translate(492.35 218.75) rotate(0.2) scale(0.87 1)" font-size="6.1" text-anchor="middle" class="x1">Year</text>
<text transform="translate(492.7 226.45) rotate(0.2) scale(1.04 1)" font-size="6.1" text-anchor="middle" class="x2">3</text>
<text transform="translate(507.29 218.75) rotate(0.2) scale(0.87 1)" font-size="6.1" text-anchor="middle" class="x1">Year</text>
<text transform="translate(507.64 226.45) rotate(0.2) scale(1.04 1)" font-size="6.1" text-anchor="middle" class="x2">5</text>
<text transform="translate(71.85 251.15) rotate(0.2)" font-size="8.2" text-anchor="middle" class="tt">DUP-09</text>
<rect x="33.22" y="258.8" width="2.8" height="29.65" fill="#1e3b70"/>
<rect x="40.69" y="258.8" width="2.8" height="29.65" fill="#1e3b70"/>
<rect x="48.16" y="258.8" width="2.8" height="29.65" fill="#1e3b70"/>
<rect x="55.63" y="258.8" width="2.8" height="29.65" fill="#1e3b70"/>
<rect x="63.1" y="258.8" width="2.8" height="29.65" fill="#1e3b70"/>
<rect x="70.57" y="258.8" width="2.8" height="29.65" fill="#1e3b70"/>
<rect x="78.04" y="258.8" width="2.8" height="29.65" fill="#1e3b70"/>
<rect x="85.51" y="258.8" width="2.8" height="29.65" fill="#1e3b70"/>
<rect x="92.98" y="258.8" width="2.8" height="29.65" fill="#1e3b70"/>
<line x1="23.45" y1="255.85" x2="23.45" y2="288.95" stroke="#000" stroke-width="1.1"/>
<line x1="20.05" y1="288.45" x2="120.9" y2="288.45" stroke="#000" stroke-width="1.1"/>
<line x1="20.25" y1="258.55" x2="23.45" y2="258.55" stroke="#000" stroke-width="1.1"/>
<text transform="translate(17.85 260.44) rotate(0.2) scale(1.12 1)" font-size="5.9" text-anchor="end" class="tk">100</text>
<line x1="20.25" y1="273.65" x2="23.45" y2="273.65" stroke="#000" stroke-width="1.1"/>
<text transform="translate(17.85 275.54) rotate(0.2) scale(1.12 1)" font-size="5.9" text-anchor="end" class="tk">50</text>
<line x1="20.25" y1="288.45" x2="23.45" y2="288.45" stroke="#000" stroke-width="1.1"/>
<text transform="translate(17.85 290.34) rotate(0.2) scale(1.12 1)" font-size="5.9" text-anchor="end" class="tk">0</text>
<text transform="translate(27.15 296.65) rotate(0.2) scale(0.92 1)" font-size="6.1" text-anchor="middle" class="x1">Day</text>
<text transform="translate(27.15 304.35) rotate(0.2) scale(1.04 1)" font-size="6.1" text-anchor="middle" class="x2">7</text>
<text transform="translate(42.09 296.65) rotate(0.2) scale(0.92 1)" font-size="6.1" text-anchor="middle" class="x1">Day</text>
<text transform="translate(42.09 304.35) rotate(0.2) scale(1.04 1)" font-size="6.1" text-anchor="middle" class="x2">21</text>
<text transform="translate(57.03 296.65) rotate(0.2) scale(0.92 1)" font-size="6.1" text-anchor="middle" class="x1">Day</text>
<text transform="translate(57.03 304.35) rotate(0.2) scale(1.04 1)" font-size="6.1" text-anchor="middle" class="x2">42</text>
<text transform="translate(71.97 296.65) rotate(0.2) scale(0.92 1)" font-size="6.1" text-anchor="middle" class="x1">Day</text>
<text transform="translate(71.97 304.35) rotate(0.2) scale(1.04 1)" font-size="6.1" text-anchor="middle" class="x2">100</text>
<text transform="translate(86.91 296.65) rotate(0.2) scale(0.92 1)" font-size="6.1" text-anchor="middle" class="x1">Day</text>
<text transform="translate(86.91 304.35) rotate(0.2) scale(1.04 1)" font-size="6.1" text-anchor="middle" class="x2">365</text>
<text transform="translate(101.5 296.65) rotate(0.2) scale(0.87 1)" font-size="6.1" text-anchor="middle" class="x1">Year</text>
<text transform="translate(101.85 304.35) rotate(0.2) scale(1.04 1)" font-size="6.1" text-anchor="middle" class="x2">3</text>
<text transform="translate(116.44 296.65) rotate(0.2) scale(0.87 1)" font-size="6.1" text-anchor="middle" class="x1">Year</text>
<text transform="translate(116.79 304.35) rotate(0.2) scale(1.04 1)" font-size="6.1" text-anchor="middle" class="x2">5</text>
<text transform="translate(202.3 251.15) rotate(0.2)" font-size="8.2" text-anchor="middle" class="tt">DUP-10</text>
<rect x="156.2" y="258.8" width="2.8" height="29.65" fill="#9e001a"/>
<rect x="163.67" y="259.69" width="2.8" height="28.76" fill="#1e3b70"/>
<rect x="171.14" y="258.8" width="2.8" height="29.65" fill="#1e3b70"/>
<rect x="186.08" y="259.99" width="2.8" height="28.46" fill="#1e3b70"/>
<rect x="193.55" y="260.28" width="2.8" height="28.17" fill="#1e3b70"/>
<rect x="201.02" y="258.8" width="2.8" height="29.65" fill="#1e3b70"/>
<rect x="208.49" y="258.8" width="2.8" height="29.65" fill="#1e3b70"/>
<rect x="215.96" y="258.8" width="2.8" height="29.65" fill="#1e3b70"/>
<rect x="223.43" y="258.8" width="2.8" height="29.65" fill="#1e3b70"/>
<line x1="153.9" y1="255.85" x2="153.9" y2="288.95" stroke="#000" stroke-width="1.1"/>
<line x1="150.5" y1="288.45" x2="251.35" y2="288.45" stroke="#000" stroke-width="1.1"/>
<line x1="150.7" y1="258.55" x2="153.9" y2="258.55" stroke="#000" stroke-width="1.1"/>
<text transform="translate(148.3 260.44) rotate(0.2) scale(1.12 1)" font-size="5.9" text-anchor="end" class="tk">100</text>
<line x1="150.7" y1="273.65" x2="153.9" y2="273.65" stroke="#000" stroke-width="1.1"/>
<text transform="translate(148.3 275.54) rotate(0.2) scale(1.12 1)" font-size="5.9" text-anchor="end" class="tk">50</text>
<line x1="150.7" y1="288.45" x2="153.9" y2="288.45" stroke="#000" stroke-width="1.1"/>
<text transform="translate(148.3 290.34) rotate(0.2) scale(1.12 1)" font-size="5.9" text-anchor="end" class="tk">0</text>
<text transform="translate(157.6 296.65) rotate(0.2) scale(0.92 1)" font-size="6.1" text-anchor="middle" class="x1">Day</text>
<text transform="translate(157.6 304.35) rotate(0.2) scale(1.04 1)" font-size="6.1" text-anchor="middle" class="x2">7</text>
<text transform="translate(172.54 296.65) rotate(0.2) scale(0.92 1)" font-size="6.1" text-anchor="middle" class="x1">Day</text>
<text transform="translate(172.54 304.35) rotate(0.2) scale(1.04 1)" font-size="6.1" text-anchor="middle" class="x2">21</text>
<text transform="translate(187.48 296.65) rotate(0.2) scale(0.92 1)" font-size="6.1" text-anchor="middle" class="x1">Day</text>
<text transform="translate(187.48 304.35) rotate(0.2) scale(1.04 1)" font-size="6.1" text-anchor="middle" class="x2">42</text>
<text transform="translate(202.42 296.65) rotate(0.2) scale(0.92 1)" font-size="6.1" text-anchor="middle" class="x1">Day</text>
<text transform="translate(202.42 304.35) rotate(0.2) scale(1.04 1)" font-size="6.1" text-anchor="middle" class="x2">100</text>
<text transform="translate(217.36 296.65) rotate(0.2) scale(0.92 1)" font-size="6.1" text-anchor="middle" class="x1">Day</text>
<text transform="translate(217.36 304.35) rotate(0.2) scale(1.04 1)" font-size="6.1" text-anchor="middle" class="x2">365</text>
<text transform="translate(231.95 296.65) rotate(0.2) scale(0.87 1)" font-size="6.1" text-anchor="middle" class="x1">Year</text>
<text transform="translate(232.3 304.35) rotate(0.2) scale(1.04 1)" font-size="6.1" text-anchor="middle" class="x2">3</text>
<text transform="translate(246.89 296.65) rotate(0.2) scale(0.87 1)" font-size="6.1" text-anchor="middle" class="x1">Year</text>
<text transform="translate(247.24 304.35) rotate(0.2) scale(1.04 1)" font-size="6.1" text-anchor="middle" class="x2">5</text>
<text transform="translate(332.4 251) rotate(0.2)" font-size="8.2" text-anchor="middle" class="tt">DUP-11</text>
<rect x="286.25" y="258.6" width="2.8" height="24.7" fill="#9e001a"/>
<rect x="293.82" y="258.6" width="2.8" height="24.7" fill="#1e3b70"/>
<rect x="301.4" y="258.6" width="2.8" height="24.7" fill="#1e3b70"/>
<rect x="308.98" y="258.6" width="2.8" height="24.7" fill="#1e3b70"/>
<rect x="316.55" y="258.6" width="2.8" height="24.7" fill="#1e3b70"/>
<rect x="324.12" y="258.6" width="2.8" height="24.7" fill="#1e3b70"/>
<rect x="331.7" y="258.6" width="2.8" height="24.7" fill="#1e3b70"/>
<rect x="339.27" y="258.6" width="2.8" height="24.7" fill="#1e3b70"/>
<rect x="346.85" y="258.6" width="2.8" height="24.7" fill="#1e3b70"/>
<line x1="284" y1="255.7" x2="284" y2="283.8" stroke="#000" stroke-width="1.1"/>
<line x1="280.6" y1="283.3" x2="381.2" y2="283.3" stroke="#000" stroke-width="1.1"/>
<line x1="280.8" y1="258.6" x2="284" y2="258.6" stroke="#000" stroke-width="1.1"/>
<text transform="translate(278.4 260.49) rotate(0.2) scale(1.12 1)" font-size="5.9" text-anchor="end" class="tk">100</text>
<line x1="280.8" y1="270.9" x2="284" y2="270.9" stroke="#000" stroke-width="1.1"/>
<text transform="translate(278.4 272.79) rotate(0.2) scale(1.12 1)" font-size="5.9" text-anchor="end" class="tk">50</text>
<line x1="280.8" y1="283.3" x2="284" y2="283.3" stroke="#000" stroke-width="1.1"/>
<text transform="translate(278.4 285.19) rotate(0.2) scale(1.12 1)" font-size="5.9" text-anchor="end" class="tk">0</text>
<text transform="translate(289.85 286.7) rotate(-89.8) scale(0.97 1)" font-size="6.2" text-anchor="end" class="xr">Day 7</text>
<text transform="translate(297.42 286.7) rotate(-89.8) scale(0.97 1)" font-size="6.2" text-anchor="end" class="xr">Day 14</text>
<text transform="translate(305 286.7) rotate(-89.8) scale(0.97 1)" font-size="6.2" text-anchor="end" class="xr">Day 21</text>
<text transform="translate(312.57 286.7) rotate(-89.8) scale(0.97 1)" font-size="6.2" text-anchor="end" class="xr">Day 28</text>
<text transform="translate(320.15 286.7) rotate(-89.8) scale(0.97 1)" font-size="6.2" text-anchor="end" class="xr">Day 42</text>
<text transform="translate(327.72 286.7) rotate(-89.8) scale(0.97 1)" font-size="6.2" text-anchor="end" class="xr">Day 70</text>
<text transform="translate(335.3 286.7) rotate(-89.8) scale(0.97 1)" font-size="6.2" text-anchor="end" class="xr">Day 100</text>
<text transform="translate(342.87 286.7) rotate(-89.8) scale(0.97 1)" font-size="6.2" text-anchor="end" class="xr">Day 180</text>
<text transform="translate(350.45 286.7) rotate(-89.8) scale(0.97 1)" font-size="6.2" text-anchor="end" class="xr">Day 365</text>
<text transform="translate(358.42 286.7) rotate(-89.8) scale(0.97 1)" font-size="6.2" text-anchor="end" class="xr">Year 2</text>
<text transform="translate(366 286.7) rotate(-89.8) scale(0.97 1)" font-size="6.2" text-anchor="end" class="xr">Year 3</text>
<text transform="translate(373.57 286.7) rotate(-89.8) scale(0.97 1)" font-size="6.2" text-anchor="end" class="xr">Year 4</text>
<text transform="translate(381.15 286.7) rotate(-89.8) scale(0.97 1)" font-size="6.2" text-anchor="end" class="xr">Year 5</text>
<text transform="translate(462.95 251) rotate(0.2)" font-size="8.2" text-anchor="middle" class="tt">DUP-12</text>
<rect x="416.8" y="259.84" width="2.8" height="23.46" fill="#9e001a"/>
<rect x="424.38" y="258.6" width="2.8" height="24.7" fill="#1e3b70"/>
<rect x="431.95" y="258.6" width="2.8" height="24.7" fill="#1e3b70"/>
<rect x="439.53" y="258.6" width="2.8" height="24.7" fill="#1e3b70"/>
<rect x="447.1" y="258.6" width="2.8" height="24.7" fill="#1e3b70"/>
<rect x="454.68" y="258.6" width="2.8" height="24.7" fill="#1e3b70"/>
<rect x="462.25" y="258.6" width="2.8" height="24.7" fill="#1e3b70"/>
<rect x="469.82" y="258.6" width="2.8" height="24.7" fill="#1e3b70"/>
<rect x="477.4" y="258.6" width="2.8" height="24.7" fill="#1e3b70"/>
<line x1="414.55" y1="255.7" x2="414.55" y2="283.8" stroke="#000" stroke-width="1.1"/>
<line x1="411.15" y1="283.3" x2="511.75" y2="283.3" stroke="#000" stroke-width="1.1"/>
<line x1="411.35" y1="258.6" x2="414.55" y2="258.6" stroke="#000" stroke-width="1.1"/>
<text transform="translate(408.95 260.49) rotate(0.2) scale(1.12 1)" font-size="5.9" text-anchor="end" class="tk">100</text>
<line x1="411.35" y1="270.9" x2="414.55" y2="270.9" stroke="#000" stroke-width="1.1"/>
<text transform="translate(408.95 272.79) rotate(0.2) scale(1.12 1)" font-size="5.9" text-anchor="end" class="tk">50</text>
<line x1="411.35" y1="283.3" x2="414.55" y2="283.3" stroke="#000" stroke-width="1.1"/>
<text transform="translate(408.95 285.19) rotate(0.2) scale(1.12 1)" font-size="5.9" text-anchor="end" class="tk">0</text>
<text transform="translate(420.4 286.7) rotate(-89.8) scale(0.97 1)" font-size="6.2" text-anchor="end" class="xr">Day 7</text>
<text transform="translate(427.97 286.7) rotate(-89.8) scale(0.97 1)" font-size="6.2" text-anchor="end" class="xr">Day 14</text>
<text transform="translate(435.55 286.7) rotate(-89.8) scale(0.97 1)" font-size="6.2" text-anchor="end" class="xr">Day 21</text>
<text transform="translate(443.12 286.7) rotate(-89.8) scale(0.97 1)" font-size="6.2" text-anchor="end" class="xr">Day 28</text>
<text transform="translate(450.7 286.7) rotate(-89.8) scale(0.97 1)" font-size="6.2" text-anchor="end" class="xr">Day 42</text>
<text transform="translate(458.27 286.7) rotate(-89.8) scale(0.97 1)" font-size="6.2" text-anchor="end" class="xr">Day 70</text>
<text transform="translate(465.85 286.7) rotate(-89.8) scale(0.97 1)" font-size="6.2" text-anchor="end" class="xr">Day 100</text>
<text transform="translate(473.42 286.7) rotate(-89.8) scale(0.97 1)" font-size="6.2" text-anchor="end" class="xr">Day 180</text>
<text transform="translate(481 286.7) rotate(-89.8) scale(0.97 1)" font-size="6.2" text-anchor="end" class="xr">Day 365</text>
<text transform="translate(488.97 286.7) rotate(-89.8) scale(0.97 1)" font-size="6.2" text-anchor="end" class="xr">Year 2</text>
<text transform="translate(496.55 286.7) rotate(-89.8) scale(0.97 1)" font-size="6.2" text-anchor="end" class="xr">Year 3</text>
<text transform="translate(504.12 286.7) rotate(-89.8) scale(0.97 1)" font-size="6.2" text-anchor="end" class="xr">Year 4</text>
<text transform="translate(511.7 286.7) rotate(-89.8) scale(0.97 1)" font-size="6.2" text-anchor="end" class="xr">Year 5</text>
<path d="M0 0H520V316H0Z M1.4 1.4V314.6H518.6V1.4Z" fill="#000" fill-rule="evenodd"/>
</svg>
</body></html>
